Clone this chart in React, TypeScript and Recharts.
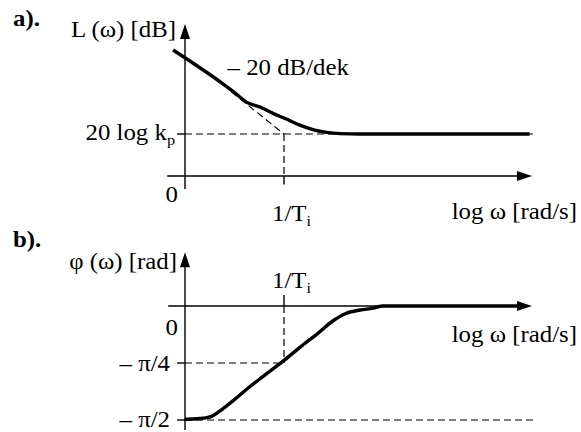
import React from 'react';
import { ComposedChart, Line, XAxis, YAxis, ReferenceLine, ReferenceDot } from 'recharts';

// ---------------- data ----------------
// a) magnitude: x = log ω (1/Ti at 1, origin at 0), y = L(ω) in schematic dB units
const gainLogW = [-0.12, 0.35, 0.51, 0.62, 0.76, 0.89, 1.03, 1.16, 1.3, 1.43, 1.57, 1.77, 3.48];
const gainDb = [30.0, 22.5, 19.7, 17.6, 16.4, 14.9, 13.5, 12.1, 11.0, 10.4, 10.1, 10.0, 10.0];
// −20 dB/dek asymptote (visible dashed part)
const asymLogW = [0.47, 1.0];
const asymDb = [20.0, 10.0];
const KP_DB = 10; // 20 log kp
const BREAK_LOGW = 1; // 1/Ti

// b) phase in rad
const phaseLogW = [0, 0.15, 0.27, 0.35, 0.49, 0.62, 0.79, 1.0, 1.16, 1.33, 1.5, 1.63, 1.77, 1.9, 2.0, 3.38];
const phaseRad = [-1.56, -1.55, -1.52, -1.45, -1.3, -1.15, -0.97, -0.75, -0.57, -0.39, -0.2, -0.1, -0.055, -0.03, 0, 0];
const PHI_QUARTER = -Math.PI / 4;
const PHI_HALF = -Math.PI / 2;

// axis extents (data units)
const A_XAXIS = [-0.18, 3.505];
const A_YAXIS = [-3.1, 36.2];
const B_XAXIS = [-0.17, 3.505];
const B_YAXIS = [-1.71, 0.74];
const GUIDE_END = 3.515;
const TICK_LEN_X = 0.08;
const A_TICK_BELOW = -2.0;
const B_TICK_ABOVE = 0.15;

// tick / axis label texts
const aTexts = ['a).', 'L (ω) [dB]', '– 20 dB/dek', '20 log k', '0', '1/T', 'log ω [rad/s]'];
const bTexts = ['b).', 'φ (ω) [rad]', '1/T', '0', '– π/4', '– π/2', 'log ω [rad/s]'];

const gainData = gainLogW.map((x, i) => ({ x, y: gainDb[i] }));
const asymData = asymLogW.map((x, i) => ({ x, y: asymDb[i] }));
const phaseData = phaseLogW.map((x, i) => ({ x, y: phaseRad[i] }));

// ---------------- layout ----------------
const W = 581;
const X0_PX = 185;
const X_UNIT = 99;
const X_DOMAIN: [number, number] = [-0.3, 3.7];
const M_LEFT = X0_PX + X_DOMAIN[0] * X_UNIT;
const M_RIGHT = W - (X0_PX + X_DOMAIN[1] * X_UNIT);

const A_TOP = 0;
const A_H = 240;
const A_ZERO = 176;
const A_UNIT = 4.2;
const A_DOMAIN: [number, number] = [-14, 40];
const A_MT = A_ZERO - A_DOMAIN[1] * A_UNIT - A_TOP;
const A_MB = A_TOP + A_H - (A_ZERO - A_DOMAIN[0] * A_UNIT);

const B_TOP = 226;
const B_H = 206;
const B_ZERO = 306;
const B_UNIT = 72.57;
const B_DOMAIN: [number, number] = [-1.7, 1.05];
const B_MT = B_ZERO - B_DOMAIN[1] * B_UNIT - B_TOP;
const B_MB = B_TOP + B_H - (B_ZERO - B_DOMAIN[0] * B_UNIT);

const FONT = '"Liberation Serif", "Times New Roman", "DejaVu Serif", serif';
const FS = 23;
const SUB_FS = 15;
const SX = 1.08;
const AXIS_W = 1.4;
const DASH_W = 1.2;
const DASH = '7 4';
const CURVE_W = 3.4;
const ARROW_LEN = 15;
const ARROW_HALF = 5;

const arrowShape = (props: any) => {
  const { x1, y1, x2, y2 } = props;
  const dx = x2 - x1;
  const dy = y2 - y1;
  const len = Math.hypot(dx, dy) || 1;
  const ux = dx / len;
  const uy = dy / len;
  const bx = x2 - ux * ARROW_LEN;
  const by = y2 - uy * ARROW_LEN;
  const px = -uy;
  const py = ux;
  return (
    <g>
      <line x1={x1} y1={y1} x2={bx + ux * 2} y2={by + uy * 2} stroke="#000" strokeWidth={AXIS_W} />
      <polygon
        points={`${x2},${y2} ${bx + px * ARROW_HALF},${by + py * ARROW_HALF} ${bx - px * ARROW_HALF},${by - py * ARROW_HALF}`}
        fill="#000"
      />
    </g>
  );
};

type Spec = { text: string; sub?: string; x: number; y: number; dx: number; dy: number; anchor: string; bold?: boolean };

const textShape = (s: Spec) => (props: any) => {
  const { cx, cy } = props;
  return (
    <text
      transform={`translate(${cx + s.dx},${cy + s.dy}) scale(${SX},1)`}
      textAnchor={s.anchor}
      fontFamily={FONT}
      fontSize={FS}
      fontWeight={s.bold ? 'bold' : 'normal'}
      fill="#000"
    >
      {s.text}
      {s.sub ? (
        <tspan fontSize={SUB_FS} dy={5}>
          {s.sub}
        </tspan>
      ) : null}
    </text>
  );
};

const aLabels: Spec[] = [
  { text: aTexts[0], x: 0, y: A_YAXIS[1], dx: -172, dy: 2, anchor: 'start', bold: true },
  { text: aTexts[1], x: 0, y: A_YAXIS[1], dx: -9, dy: 13, anchor: 'end' },
  { text: aTexts[2], x: asymLogW[0], y: asymDb[0], dx: -4, dy: -17, anchor: 'start' },
  { text: aTexts[3], sub: 'p', x: 0, y: KP_DB, dx: -10, dy: 6, anchor: 'end' },
  { text: aTexts[4], x: 0, y: 0, dx: -7, dy: 26, anchor: 'end' },
  { text: aTexts[5], sub: 'i', x: BREAK_LOGW, y: 0, dx: -12, dy: 45, anchor: 'start' },
  { text: aTexts[6], x: A_XAXIS[1], y: 0, dx: 45, dy: 43, anchor: 'end' },
];

const bLabels: Spec[] = [
  { text: bTexts[0], x: 0, y: B_YAXIS[1], dx: -172, dy: -5, anchor: 'start', bold: true },
  { text: bTexts[1], x: 0, y: B_YAXIS[1], dx: -8, dy: 17, anchor: 'end' },
  { text: bTexts[2], sub: 'i', x: BREAK_LOGW, y: 0, dx: -12, dy: -18, anchor: 'start' },
  { text: bTexts[3], x: 0, y: 0, dx: -7, dy: 29, anchor: 'end' },
  { text: bTexts[4], x: 0, y: PHI_QUARTER, dx: -15, dy: 8, anchor: 'end' },
  { text: bTexts[5], x: 0, y: PHI_HALF, dx: -15, dy: 7, anchor: 'end' },
  { text: bTexts[6], x: B_XAXIS[1], y: 0, dx: 45, dy: 36, anchor: 'end' },
];

const renderLabels = (labels: Spec[], prefix: string) =>
  labels.map((s, i) => (
    <ReferenceDot key={`${prefix}${i}`} x={s.x} y={s.y} r={0} ifOverflow="visible" shape={textShape(s)} />
  ));

const seg = (x1: number, y1: number, x2: number, y2: number) => [
  { x: x1, y: y1 },
  { x: x2, y: y2 },
];

export default function App() {
  return (
    <div style={{ position: 'absolute', left: 0, top: 0, width: W, height: 432, overflow: 'hidden', background: '#fff' }}>
      <div style={{ position: 'absolute', left: 0, top: A_TOP }}>
        <ComposedChart width={W} height={A_H} margin={{ top: A_MT, right: M_RIGHT, bottom: A_MB, left: M_LEFT }}>
          <XAxis type="number" dataKey="x" domain={X_DOMAIN} hide allowDataOverflow />
          <YAxis type="number" dataKey="y" domain={A_DOMAIN} hide allowDataOverflow width={0} />
          {/* guides */}
          <ReferenceLine segment={seg(0, KP_DB, GUIDE_END, KP_DB)} ifOverflow="visible" stroke="#000" strokeWidth={DASH_W} strokeDasharray={DASH} />
          <ReferenceLine segment={seg(BREAK_LOGW, KP_DB, BREAK_LOGW, 0)} ifOverflow="visible" stroke="#000" strokeWidth={DASH_W} strokeDasharray={DASH} />
          <ReferenceLine segment={seg(BREAK_LOGW, 0, BREAK_LOGW, A_TICK_BELOW)} ifOverflow="visible" stroke="#000" strokeWidth={AXIS_W} />
          <ReferenceLine segment={seg(-TICK_LEN_X, KP_DB, 0, KP_DB)} ifOverflow="visible" stroke="#000" strokeWidth={AXIS_W} />
          {/* axes */}
          <ReferenceLine segment={seg(A_XAXIS[0], 0, A_XAXIS[1], 0)} ifOverflow="visible" shape={arrowShape} />
          <ReferenceLine segment={seg(0, A_YAXIS[0], 0, A_YAXIS[1])} ifOverflow="visible" shape={arrowShape} />
          <Line data={asymData} dataKey="y" type="linear" stroke="#000" strokeWidth={DASH_W} strokeDasharray={DASH} dot={false} activeDot={false} isAnimationActive={false} />
          <Line data={gainData} dataKey="y" type="monotone" stroke="#000" strokeWidth={CURVE_W} strokeLinejoin="round" dot={false} activeDot={false} isAnimationActive={false} />
          {renderLabels(aLabels, 'a')}
        </ComposedChart>
      </div>
      <div style={{ position: 'absolute', left: 0, top: B_TOP }}>
        <ComposedChart width={W} height={B_H} margin={{ top: B_MT, right: M_RIGHT, bottom: B_MB, left: M_LEFT }}>
          <XAxis type="number" dataKey="x" domain={X_DOMAIN} hide allowDataOverflow />
          <YAxis type="number" dataKey="y" domain={B_DOMAIN} hide allowDataOverflow width={0} />
          <ReferenceLine segment={seg(0, PHI_HALF, GUIDE_END, PHI_HALF)} ifOverflow="visible" stroke="#000" strokeWidth={DASH_W} strokeDasharray={DASH} />
          <ReferenceLine segment={seg(0, PHI_QUARTER, BREAK_LOGW, PHI_QUARTER)} ifOverflow="visible" stroke="#000" strokeWidth={DASH_W} strokeDasharray={DASH} />
          <ReferenceLine segment={seg(BREAK_LOGW, 0, BREAK_LOGW, PHI_QUARTER)} ifOverflow="visible" stroke="#000" strokeWidth={DASH_W} strokeDasharray={DASH} />
          <ReferenceLine segment={seg(BREAK_LOGW, 0, BREAK_LOGW, B_TICK_ABOVE)} ifOverflow="visible" stroke="#000" strokeWidth={AXIS_W} />
          <ReferenceLine segment={seg(-TICK_LEN_X, PHI_QUARTER, 0, PHI_QUARTER)} ifOverflow="visible" stroke="#000" strokeWidth={AXIS_W} />
          <ReferenceLine segment={seg(-TICK_LEN_X, PHI_HALF, 0, PHI_HALF)} ifOverflow="visible" stroke="#000" strokeWidth={AXIS_W} />
          <ReferenceLine segment={seg(B_XAXIS[0], 0, B_XAXIS[1], 0)} ifOverflow="visible" shape={arrowShape} />
          <ReferenceLine segment={seg(0, B_YAXIS[0], 0, B_YAXIS[1])} ifOverflow="visible" shape={arrowShape} />
          <Line data={phaseData} dataKey="y" type="monotone" stroke="#000" strokeWidth={CURVE_W} strokeLinejoin="round" dot={false} activeDot={false} isAnimationActive={false} />
          {renderLabels(bLabels, 'b')}
        </ComposedChart>
      </div>
    </div>
  );
}
